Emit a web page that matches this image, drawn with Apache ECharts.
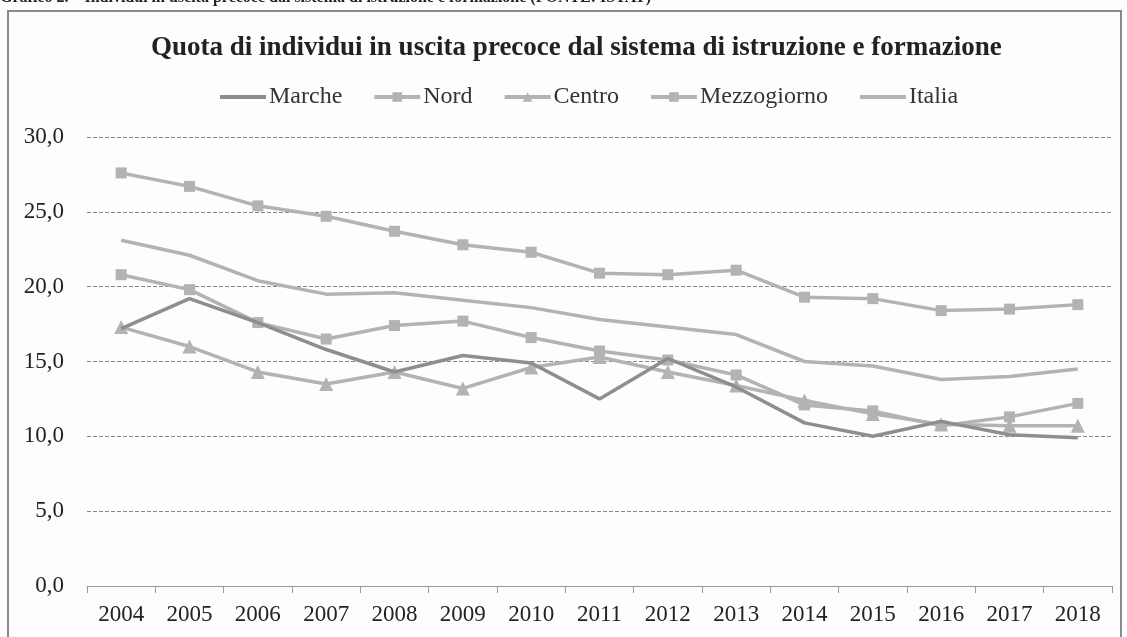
<!DOCTYPE html>
<html><head><meta charset="utf-8">
<script src="https://cdn.jsdelivr.net/npm/echarts@6/dist/echarts.min.js"></script>
<style>html,body{margin:0;padding:0;background:#fdfdfd;}#c{width:1127px;height:637px;}</style>
</head><body><div id="c"></div>
<script>
const years = ['2004','2005','2006','2007','2008','2009','2010','2011','2012','2013','2014','2015','2016','2017','2018'];
const marche = [17.2,19.2,17.6,15.8,14.3,15.4,14.9,12.5,15.2,13.3,10.9,10.0,11.0,10.1,9.9];
const nord = [20.8,19.8,17.6,16.5,17.4,17.7,16.6,15.7,15.1,14.1,12.1,11.7,10.7,11.3,12.2];
const centro = [17.3,16.0,14.3,13.5,14.3,13.2,14.6,15.3,14.3,13.4,12.4,11.5,10.8,10.7,10.7];
const mezzogiorno = [27.6,26.7,25.4,24.7,23.7,22.8,22.3,20.9,20.8,21.1,19.3,19.2,18.4,18.5,18.8];
const italia = [23.1,22.1,20.4,19.5,19.6,19.1,18.6,17.8,17.3,16.8,15.0,14.7,13.8,14.0,14.5];

const light = '#b3b3b5', dark = '#8e8e90';
function s(name, data, color, symbol, size){
  return {name, type:'line', data, symbol, symbolSize:size, showSymbol: symbol!=='none',
    lineStyle:{color, width:3.5}, itemStyle:{color}, z: name==='Marche'?3:2, animation:false};
}
const serif = 'Liberation Serif';
const chart = echarts.init(document.getElementById('c'));
chart.setOption({
  backgroundColor:'#fdfdfd',
  animation:false,
  graphic:[
    {type:'rect', shape:{x:8,y:11,width:1113,height:640}, style:{fill:'#fdfdfd',stroke:'#8a8a8a',lineWidth:2}, z:-1},
    {type:'text', left:0, top:-10, style:{text:'Grafico 2. – Individui in uscita precoce dal sistema di istruzione e formazione (FONTE: ISTAT)', font:'bold 16px "Liberation Serif"', fill:'#222'}}
  ],
  title:{text:'Quota di individui in uscita precoce dal sistema di istruzione e formazione', left:146, top:30,
    textStyle:{fontFamily:serif, fontWeight:'bold', fontSize:27, color:'#222'}},
  legend:{top:80, left:213, itemWidth:46, itemHeight:12, itemGap:30,
    lineStyle:{width:4},
    textStyle:{fontFamily:serif, fontSize:24, color:'#333', padding:[0,0,0,-2]},
    data:[
      {name:'Marche', itemStyle:{opacity:0}},
      {name:'Nord'},
      {name:'Centro'},
      {name:'Mezzogiorno'},
      {name:'Italia', itemStyle:{opacity:0}}
    ]},
  grid:{left:87, right:15, top:137, bottom:51},
  xAxis:{type:'category', data:years, boundaryGap:true,
    axisLine:{lineStyle:{color:'#999',width:1}}, axisTick:{show:true,length:7,lineStyle:{color:'#999'}},
    axisLabel:{fontFamily:serif, fontSize:23, color:'#222', margin:17}},
  yAxis:{type:'value', min:0, max:30, interval:5,
    axisLine:{show:false}, axisTick:{show:false},
    splitLine:{lineStyle:{color:'#888', type:'dashed', width:1}},
    axisLabel:{fontFamily:serif, fontSize:23, color:'#222', margin:23, formatter:v=>v.toFixed(1).replace('.',',')}},
  series:[
    s('Marche', marche, dark, 'none', 0),
    s('Nord', nord, light, 'rect', 11),
    s('Centro', centro, light, 'triangle', 14),
    s('Mezzogiorno', mezzogiorno, light, 'rect', 11),
    s('Italia', italia, light, 'none', 0)
  ]
});
</script></body></html>
